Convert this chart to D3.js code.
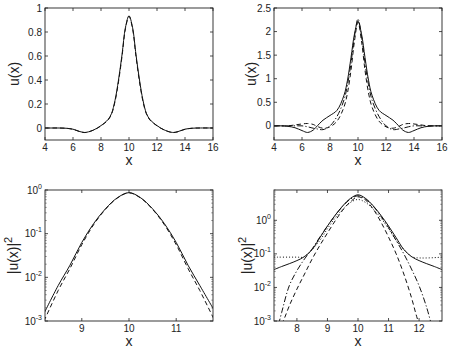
<!DOCTYPE html>
<html><head><meta charset="utf-8">
<script src="https://cdn.jsdelivr.net/npm/d3@7"></script>
<style>body{margin:0;background:#fff}text{font-family:"Liberation Sans",Arial,sans-serif;fill:#222}</style>
</head><body><svg id="c" width="450" height="349"></svg>
<script>
// ---------- DATA ----------
// Panel 1: u(x), x in [4,16]
const p1X      = [4,4.5,5,5.5,6,6.5,6.8,7,7.5,8,8.5,8.75,9,9.25,9.5,9.75,10,10.25,10.5,10.75,11,11.25,11.5,12,12.5,13,13.2,13.5,14,14.5,15,16];
const p1Solid  = [0,0,0,-0.002,-0.01,-0.03,-0.037,-0.035,-0.015,0.02,0.07,0.12,0.23,0.4,0.61,0.84,0.935,0.84,0.61,0.4,0.23,0.12,0.07,0.02,-0.015,-0.035,-0.037,-0.03,-0.01,-0.002,0,0];
const p1Dash   = [0,0,0,-0.002,-0.011,-0.031,-0.038,-0.036,-0.016,0.018,0.066,0.115,0.22,0.385,0.595,0.83,0.93,0.83,0.595,0.385,0.22,0.115,0.066,0.018,-0.016,-0.036,-0.038,-0.031,-0.011,-0.002,0,0];
// Panel 2: u(x), x in [4,16]
const p2X      = [4,4.5,5,5.5,6,6.4,6.8,7,7.5,8,8.5,9,9.25,9.5,9.75,10,10.25,10.5,10.75,11,11.5,12,12.5,13,13.2,13.6,14,14.5,15,15.5,16];
const p2Solid  = [0,0,-0.01,-0.04,-0.1,-0.14,-0.09,-0.03,0.12,0.22,0.33,0.65,0.97,1.45,1.95,2.22,1.95,1.45,0.97,0.65,0.33,0.22,0.12,-0.03,-0.09,-0.14,-0.1,-0.04,-0.01,0,0];
const p2Dash   = [0,0,0,0.02,0.04,0.05,0.03,0.0,-0.05,-0.02,0.1,0.4,0.7,1.18,1.8,2.2,1.8,1.18,0.7,0.4,0.1,-0.02,-0.05,0.0,0.03,0.05,0.04,0.02,0,0,0];
const p2DashDot= [0,0,0,0,0,-0.02,-0.05,-0.06,-0.08,0.0,0.2,0.55,0.87,1.33,1.9,2.27,1.9,1.33,0.87,0.55,0.2,0.0,-0.08,-0.06,-0.05,-0.02,0,0,0,0,0];
// Panel 3: |u(x)|^2 (log), x in [8.22,11.78]
const p3X      = [8.2,8.5,8.75,9,9.25,9.5,9.75,10,10.25,10.5,10.75,11,11.25,11.5,11.8];
const p3Solid  = [1.5e-3,6.5e-3,0.019,0.063,0.17,0.37,0.66,0.87,0.66,0.37,0.17,0.063,0.019,6.5e-3,1.8e-3];
const p3Dash   = [1.0e-3,5.0e-3,0.016,0.056,0.16,0.36,0.65,0.86,0.65,0.36,0.16,0.056,0.016,5.0e-3,1.1e-3];
// Panel 4: |u(x)|^2 (log), x in [7.25,12.75]
const p4SolidX = [7.25,7.5,7.75,8,8.25,8.5,8.75,9,9.25,9.5,9.75,10,10.25,10.5,10.75,11,11.25,11.5,11.75,12,12.25,12.5,12.75];
const p4Solid  = [0.034,0.042,0.051,0.063,0.083,0.135,0.302,0.676,1.41,2.69,4.47,5.75,4.47,2.69,1.41,0.676,0.302,0.135,0.083,0.063,0.051,0.042,0.034];
const p4DotX   = [7.25,8,8.2,8.4,8.75,9,9.25,9.5,9.75,10,10.25,10.5,10.75,11,11.25,11.6,11.8,12.75];
const p4Dot    = [0.08,0.08,0.08,0.11,0.251,0.562,1.17,2.14,3.39,4.17,3.39,2.14,1.17,0.562,0.251,0.11,0.08,0.08];
const p4DashDotX=[7.4,7.5,7.75,8,8.25,8.5,8.75,9,9.25,9.5,9.75,10,10.25,10.5,10.75,11,11.25,11.5,11.75,12,12.25,12.4];
const p4DashDot= [7.9e-4,1.78e-3,0.0112,0.0316,0.0708,0.141,0.316,0.676,1.38,2.63,4.27,5.37,4.27,2.63,1.32,0.603,0.251,0.1,0.0355,0.0112,2.5e-3,7.9e-4];
const p4DashX  = [7.5,7.6,7.75,8,8.25,8.5,8.75,9,9.25,9.5,9.75,10,10.25,10.5,10.75,11,11.25,11.5,11.75,11.9,12];
const p4Dash   = [7.9e-4,1.26e-3,2.82e-3,8.9e-3,0.0251,0.0708,0.178,0.417,0.955,2.0,3.55,5.0,3.98,2.14,0.891,0.316,0.1,0.0251,5.0e-3,1.58e-3,7.9e-4];
// Tick values
const ticksX12 = [4,6,8,10,12,14,16];
const ticksY1  = [0,0.2,0.4,0.6,0.8,1];
const ticksY2  = [0,0.5,1,1.5,2,2.5];
const ticksX3  = [9,10,11];
const ticksX4  = [8,9,10,11,12];
const decades  = [-3,-2,-1,0];

// ---------- DRAW ----------
const svg = d3.select("#c");
const styles = {solid:null, dash:"4.5,3", dashdot:"6,2.2,1.2,2.2", dot:"1,2"};
let clipId = 0;

function panel(o){
  const g = svg.append("g");
  const x = d3.scaleLinear().domain(o.xd).range([o.x0,o.x1]);
  const y = (o.log ? d3.scaleLog() : d3.scaleLinear()).domain(o.yd).range([o.y1,o.y0]);
  const id = "clip"+(clipId++);
  svg.append("clipPath").attr("id",id).append("rect")
     .attr("x",o.x0).attr("y",o.y0).attr("width",o.x1-o.x0).attr("height",o.y1-o.y0);
  const lg = g.append("g").attr("clip-path",`url(#${id})`);
  o.series.forEach(s=>{
    const pts = s.x.map((v,i)=>[v,s.y[i]]);
    lg.append("path").datum(pts)
      .attr("d", d3.line().x(d=>x(d[0])).y(d=>y(d[1])).curve(d3.curveCatmullRom.alpha(0.5)))
      .attr("fill","none").attr("stroke","#111").attr("stroke-width",1)
      .attr("stroke-dasharray", styles[s.style]);
  });
  g.append("rect").attr("x",o.x0).attr("y",o.y0).attr("width",o.x1-o.x0).attr("height",o.y1-o.y0)
   .attr("fill","none").attr("stroke","#222").attr("stroke-width",0.9);
  const tl = 3;
  o.xt.forEach(t=>{
    const px = x(t);
    g.append("line").attr("x1",px).attr("x2",px).attr("y1",o.y1).attr("y2",o.y1-tl).attr("stroke","#222").attr("stroke-width",0.8);
    g.append("line").attr("x1",px).attr("x2",px).attr("y1",o.y0).attr("y2",o.y0+tl).attr("stroke","#222").attr("stroke-width",0.8);
    g.append("text").attr("x",px).attr("y",o.y1+11).attr("text-anchor","middle").attr("font-size",10).text(t);
  });
  if(!o.log){
    o.yt.forEach(t=>{
      const py = y(t);
      g.append("line").attr("x1",o.x0).attr("x2",o.x0+tl).attr("y1",py).attr("y2",py).attr("stroke","#222").attr("stroke-width",0.8);
      g.append("line").attr("x1",o.x1).attr("x2",o.x1-tl).attr("y1",py).attr("y2",py).attr("stroke","#222").attr("stroke-width",0.8);
      g.append("text").attr("x",o.x0-3).attr("y",py+3.5).attr("text-anchor","end").attr("font-size",10).text(t);
    });
  } else {
    const [lo,hi] = o.yd;
    o.yt.forEach(k=>{
      const base = Math.pow(10,k);
      if(base>=lo && base<=hi*1.0001){
        const py = y(base);
        g.append("line").attr("x1",o.x0).attr("x2",o.x0+tl).attr("y1",py).attr("y2",py).attr("stroke","#222").attr("stroke-width",0.8);
        g.append("line").attr("x1",o.x1).attr("x2",o.x1-tl).attr("y1",py).attr("y2",py).attr("stroke","#222").attr("stroke-width",0.8);
        const tx = g.append("text").attr("x",o.x0-3).attr("y",py+3.5).attr("text-anchor","end").attr("font-size",10);
        tx.append("tspan").text("10");
        tx.append("tspan").attr("dy",-5).attr("font-size",7).text(k);
      }
      for(let m=2;m<=9;m++){
        const v = m*base;
        if(v>=lo && v<=hi){
          const py = y(v);
          g.append("line").attr("x1",o.x0).attr("x2",o.x0+1.7).attr("y1",py).attr("y2",py).attr("stroke","#444").attr("stroke-width",0.6);
          g.append("line").attr("x1",o.x1).attr("x2",o.x1-1.7).attr("y1",py).attr("y2",py).attr("stroke","#444").attr("stroke-width",0.6);
        }
      }
    });
  }
  g.append("text").attr("x",(o.x0+o.x1)/2).attr("y",o.y1+25).attr("text-anchor","middle").attr("font-size",14).text("x");
  const yl = g.append("text").attr("transform",`translate(${o.ylx},${(o.y0+o.y1)/2}) rotate(-90)`)
     .attr("text-anchor","middle").attr("font-size",14);
  if(o.log){
    yl.append("tspan").text("|u(x)|");
    yl.append("tspan").attr("dy",-6).attr("font-size",11).text("2");
  } else {
    yl.text("u(x)");
  }
}

panel({x0:45,x1:213,y0:8,y1:140,xd:[4,16],yd:[-0.1,1],xt:ticksX12,yt:ticksY1,ylx:19,
  series:[{x:p1X,y:p1Solid,style:"solid"},{x:p1X,y:p1Dash,style:"dash"}]});
panel({x0:274,x1:442,y0:8,y1:140,xd:[4,16],yd:[-0.3,2.5],xt:ticksX12,yt:ticksY2,ylx:256,
  series:[{x:p2X,y:p2Solid,style:"solid"},{x:p2X,y:p2Dash,style:"dash"},{x:p2X,y:p2DashDot,style:"dashdot"}]});
panel({x0:45,x1:213,y0:190,y1:321,xd:[8.22,11.78],yd:[1e-3,1],xt:ticksX3,yt:decades,ylx:18,log:true,
  series:[{x:p3X,y:p3Solid,style:"solid"},{x:p3X,y:p3Dash,style:"dash"}]});
panel({x0:274,x1:442,y0:190,y1:321,xd:[7.25,12.75],yd:[1e-3,8],xt:ticksX4,yt:decades,ylx:252,log:true,
  series:[{x:p4SolidX,y:p4Solid,style:"solid"},{x:p4DotX,y:p4Dot,style:"dot"},{x:p4DashDotX,y:p4DashDot,style:"dashdot"},{x:p4DashX,y:p4Dash,style:"dash"}]});
</script></body></html>
